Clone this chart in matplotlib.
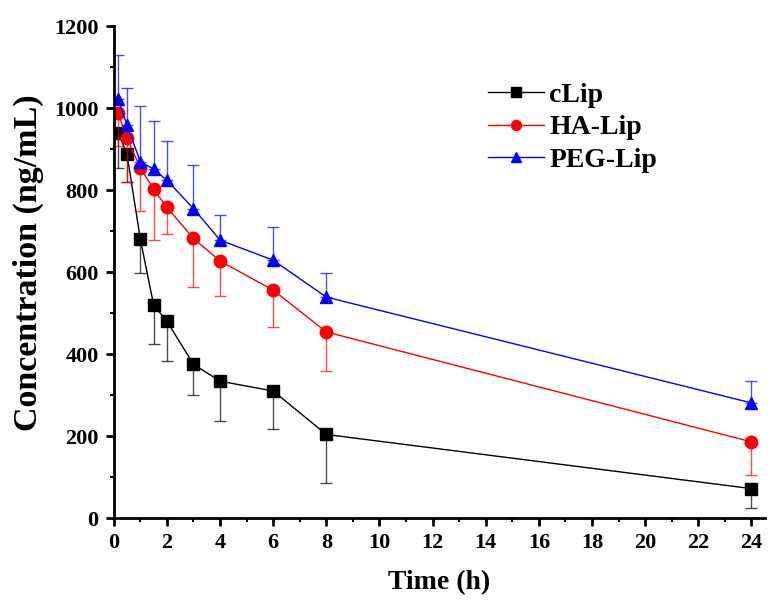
import numpy as np
import matplotlib
matplotlib.use("Agg")
import matplotlib.pyplot as plt
from matplotlib.ticker import MultipleLocator

# time points (h)
time_h = [0.17, 0.5, 1, 1.5, 2, 3, 4, 6, 8, 24]

clip_mean = [940, 887, 680, 520, 480, 375, 334, 310, 204, 72]
clip_err = [87, 67, 83, 96, 96, 75, 97, 93, 119, 48]

ha_mean = [987, 926, 854, 802, 758, 682, 627, 556, 454, 186]
ha_err = [80, 106, 105, 124, 64, 119, 86, 91, 96, 81]

peg_mean = [1021, 958, 869, 851, 824, 755, 678, 629, 539, 281]
peg_err = [108, 92, 136, 118, 96, 106, 61, 80, 59, 53]

plt.rcParams['font.family'] = ['Liberation Serif', 'DejaVu Serif']
plt.rcParams['font.weight'] = 'bold'

fig = plt.figure(figsize=(7.74, 6.06), dpi=100)
ax = fig.add_axes([0.147, 0.145, 0.841, 0.812])

series = [
    ("cLip", clip_mean, clip_err, "black", "s", "down"),
    ("HA-Lip", ha_mean, ha_err, "red", "o", "down"),
    ("PEG-Lip", peg_mean, peg_err, "blue", "^", "up"),
]

for label, mean, err, color, marker, side in series:
    zeros = np.zeros(len(err))
    yerr = [err, zeros] if side == "down" else [zeros, err]
    ax.errorbar(time_h, mean, yerr=yerr, fmt="none", ecolor=color,
                elinewidth=1, capsize=4, capthick=1, alpha=0.7)
    ax.plot(time_h, mean, color=color, marker=marker, markersize=9,
            linewidth=1, label=label)

ax.set_xlim(0, 24.5)
ax.set_ylim(0, 1200)
ax.xaxis.set_major_locator(MultipleLocator(2))
ax.xaxis.set_minor_locator(MultipleLocator(1))
ax.yaxis.set_major_locator(MultipleLocator(200))
ax.yaxis.set_minor_locator(MultipleLocator(100))

ax.spines['top'].set_visible(False)
ax.spines['right'].set_visible(False)
ax.spines['left'].set_linewidth(2)
ax.spines['bottom'].set_linewidth(2)
ax.tick_params(which='major', direction='out', length=6, width=2,
               labelsize=16, pad=5)
ax.tick_params(which='minor', direction='out', length=3, width=1.5)
for t in ax.get_xticklabels() + ax.get_yticklabels():
    t.set_fontweight('bold')

ax.set_xlabel("Time (h)", fontsize=20, fontweight='bold', labelpad=12)
ax.set_ylabel("Concentration (ng/mL)", fontsize=24.5, fontweight='bold',
              labelpad=7)
ax.yaxis.label.set_y(0.52)

ax.legend(loc='upper left', bbox_to_anchor=(0.575, 0.885), frameon=False,
          handlelength=2.0, handletextpad=0.2, labelspacing=0.25,
          borderpad=0, borderaxespad=0, markerscale=0.8,
          prop={'weight': 'bold', 'size': 20})

fig.savefig("out.png", dpi=100)
